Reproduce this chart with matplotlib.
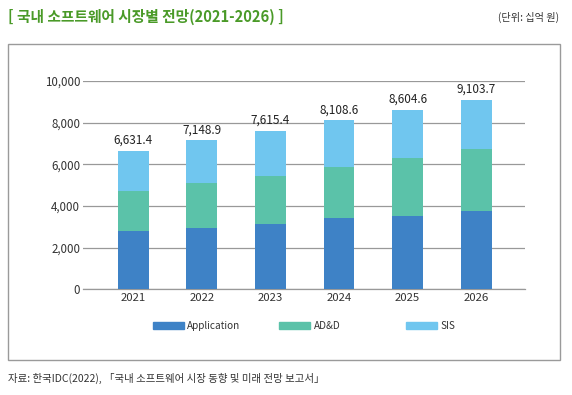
import matplotlib
matplotlib.use("Agg")
import matplotlib.pyplot as plt
from matplotlib.patches import Rectangle, Patch

plt.rcParams['font.family'] = ['Noto Sans CJK KR', 'DejaVu Sans']

years = ["2021", "2022", "2023", "2024", "2025", "2026"]
application = [2780, 2960, 3150, 3400, 3530, 3775]
add = [1950, 2140, 2280, 2470, 2750, 2950]
sis = [1901.4, 2048.9, 2185.4, 2238.6, 2324.6, 2378.7]
totals = [6631.4, 7148.9, 7615.4, 8108.6, 8604.6, 9103.7]
series_names = ["Application", "AD&D", "SIS"]
colors = ["#3e82c6", "#5bc2a9", "#70c6ef"]

title = "[ 국내 소프트웨어 시장별 전망(2021-2026) ]"
unit = "(단위: 십억 원)"
source = "자료: 한국IDC(2022), 「국내 소프트웨어 시장 동향 및 미래 전망 보고서」"

fig = plt.figure(figsize=(5.72, 3.95), dpi=100)
ax = fig.add_axes([0.1451, 0.2676, 0.7727, 0.5273])

x = list(range(len(years)))
w = 0.45
b1 = ax.bar(x, application, w, color=colors[0], zorder=3)
b2 = ax.bar(x, add, w, bottom=application, color=colors[1], zorder=3)
bottom3 = [a + d for a, d in zip(application, add)]
b3 = ax.bar(x, sis, w, bottom=bottom3, color=colors[2], zorder=3)

ax.bar_label(b3, labels=[f"{t:,.1f}" for t in totals], padding=3,
             fontsize=8.5, color="#222222")
for t in ax.texts:
    t.set_clip_on(False)

ax.set_xlim(-0.73, 5.71)
ax.set_ylim(0, 10000)
ax.set_yticks(range(0, 10001, 2000))
ax.set_yticklabels([f"{v:,}" for v in range(0, 10001, 2000)])
ax.set_xticks(x)
ax.set_xticklabels(years)
ax.yaxis.grid(True, color="#999999", linewidth=0.9, zorder=0)
ax.axhline(0, color="#999999", linewidth=0.9, clip_on=False, zorder=2)
ax.set_axisbelow(True)
for s in ax.spines.values():
    s.set_visible(False)
ax.tick_params(axis="both", length=0, colors="#333333")
ax.tick_params(axis="y", pad=2, labelsize=8.3)
ax.tick_params(axis="x", pad=3, labelsize=8.2)

# legend, one entry per fixed-width column
leg_x = [0.267, 0.488, 0.710]
for name, c, lx in zip(series_names, colors, leg_x):
    lg = fig.legend(handles=[Patch(color=c)], labels=[name], loc="center left",
                    bbox_to_anchor=(lx, 1 - 326 / 395), frameon=False,
                    fontsize=7.2, handlelength=3.1, handleheight=0.75,
                    handletextpad=0.35, borderaxespad=0, borderpad=0)
    for t in lg.get_texts():
        t.set_color("#333333")

# panel border
fig.add_artist(Rectangle((8 / 572, 1 - 360 / 395), 552 / 572, 316 / 395,
                         transform=fig.transFigure, fill=False,
                         edgecolor="#9a9a9a", linewidth=1.0))

fig.text(8 / 572, 1 - 17 / 395, title, fontsize=10.6, color="#4a9a28",
         ha="left", va="center", fontweight="bold")
fig.text(559 / 572, 1 - 17 / 395, unit, fontsize=7.3, color="#333333",
         ha="right", va="center")
fig.text(8 / 572, 1 - 378 / 395, source, fontsize=7.5, color="#333333",
         ha="left", va="center")

fig.savefig("out.png", dpi=100)
